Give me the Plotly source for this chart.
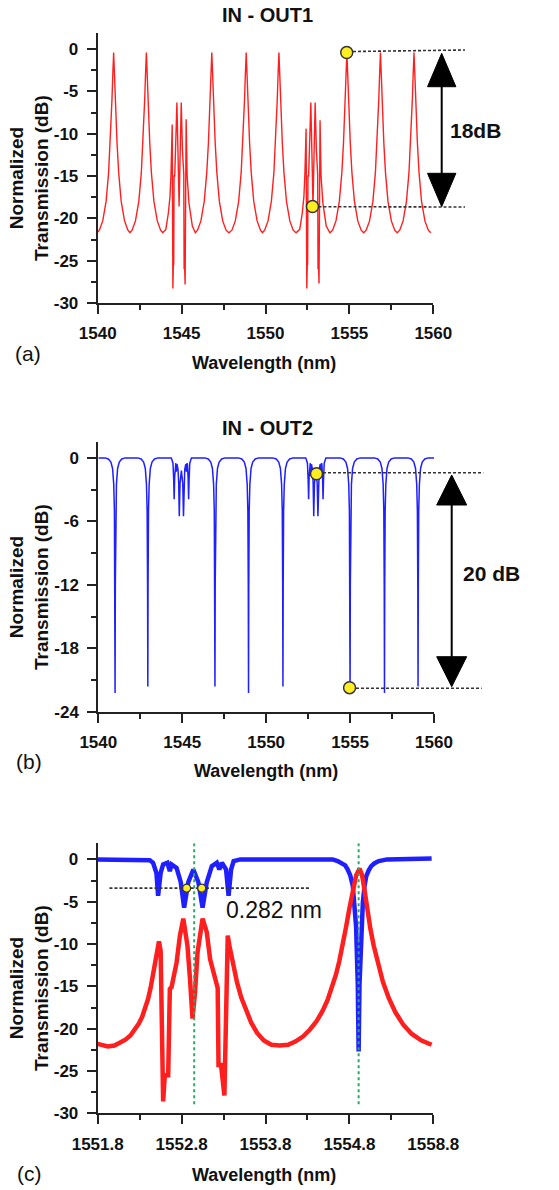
import plotly.graph_objects as go

W, H = 559, 1190
FONT = "Liberation Sans, Arial, sans-serif"

# ---------------- panel (a): IN - OUT1 (red) ----------------
wl_a = [1540.00,
        1540.10, 1540.30, 1540.50, 1540.65, 1540.75, 1540.85, 1540.90, 1540.95, 1541.00, 1541.05, 1541.15, 1541.25, 1541.40, 1541.60, 1541.80, 1541.92,
        1542.05, 1542.25, 1542.45, 1542.60, 1542.70, 1542.80, 1542.85, 1542.90, 1542.95, 1543.00, 1543.10, 1543.20, 1543.35, 1543.55, 1543.75, 1543.88,
        1544.06, 1544.21, 1544.31, 1544.37, 1544.41, 1544.44, 1544.48, 1544.51, 1544.53, 1544.55, 1544.59, 1544.65, 1544.72, 1544.79, 1544.85,
        1544.91, 1544.98, 1545.05, 1545.13, 1545.15, 1545.18, 1545.21, 1545.27, 1545.33, 1545.44, 1545.64, 1545.82,
        1545.95, 1546.15, 1546.35, 1546.50, 1546.60, 1546.70, 1546.75, 1546.80, 1546.85, 1546.90, 1547.00, 1547.10, 1547.25, 1547.45, 1547.65, 1547.82,
        1548.00, 1548.20, 1548.40, 1548.55, 1548.65, 1548.75, 1548.80, 1548.85, 1548.90, 1548.95, 1549.05, 1549.15, 1549.30, 1549.50, 1549.70, 1549.82,
        1549.95, 1550.15, 1550.35, 1550.50, 1550.60, 1550.70, 1550.75, 1550.80, 1550.85, 1550.90, 1551.00, 1551.10, 1551.25, 1551.45, 1551.65, 1551.82,
        1552.04, 1552.19, 1552.29, 1552.35, 1552.39, 1552.42, 1552.46, 1552.49, 1552.51, 1552.53, 1552.57, 1552.63, 1552.70, 1552.77, 1552.83,
        1552.89, 1552.96, 1553.03, 1553.11, 1553.13, 1553.16, 1553.19, 1553.25, 1553.31, 1553.42, 1553.62, 1553.84,
        1554.00, 1554.20, 1554.40, 1554.55, 1554.65, 1554.75, 1554.80, 1554.85, 1554.90, 1554.95, 1555.05, 1555.15, 1555.30, 1555.50, 1555.70, 1555.85,
        1556.00, 1556.20, 1556.40, 1556.55, 1556.65, 1556.75, 1556.80, 1556.85, 1556.90, 1556.95, 1557.05, 1557.15, 1557.30, 1557.50, 1557.70, 1557.85,
        1558.00, 1558.20, 1558.40, 1558.55, 1558.65, 1558.75, 1558.80, 1558.85, 1558.90, 1558.95, 1559.05, 1559.15, 1559.30, 1559.50, 1559.70, 1559.85]
db_a = [-21.6,
        -21.4, -20.3, -18.0, -14.6, -11.0, -6.0, -3.0, -0.4, -3.0, -6.0, -11.0, -14.6, -18.0, -20.3, -21.4, -21.7,
        -21.4, -20.3, -18.0, -14.6, -11.0, -6.0, -3.0, -0.4, -3.0, -6.0, -11.0, -14.6, -18.0, -20.3, -21.4, -21.7,
        -21.3, -19.4, -17.4, -14.6, -11.1, -8.9, -28.3, -25.3, -25.5, -15.0, -15.0, -11.1, -6.3, -12.7, -18.6,
        -12.7, -6.3, -11.9, -14.8, -26.0, -25.7, -27.8, -8.3, -15.0, -18.2, -20.9, -21.7,
        -21.4, -20.3, -18.0, -14.6, -11.0, -6.0, -3.0, -0.4, -3.0, -6.0, -11.0, -14.6, -18.0, -20.3, -21.4, -21.7,
        -21.4, -20.3, -18.0, -14.6, -11.0, -6.0, -3.0, -0.4, -3.0, -6.0, -11.0, -14.6, -18.0, -20.3, -21.4, -21.7,
        -21.4, -20.3, -18.0, -14.6, -11.0, -6.0, -3.0, -0.4, -3.0, -6.0, -11.0, -14.6, -18.0, -20.3, -21.4, -21.7,
        -21.3, -19.4, -17.4, -14.6, -11.1, -9.4, -28.3, -25.3, -25.5, -15.0, -15.0, -11.1, -6.3, -12.7, -18.6,
        -12.7, -6.3, -11.9, -14.8, -26.0, -25.7, -27.7, -8.4, -15.0, -18.2, -20.9, -21.7,
        -21.4, -20.3, -18.0, -14.6, -11.0, -6.0, -3.0, -0.4, -3.0, -6.0, -11.0, -14.6, -18.0, -20.3, -21.4, -21.7,
        -21.4, -20.3, -18.0, -14.6, -11.0, -6.0, -3.0, -0.4, -3.0, -6.0, -11.0, -14.6, -18.0, -20.3, -21.4, -21.7,
        -21.4, -20.3, -18.0, -14.6, -11.0, -6.0, -3.0, -0.4, -3.0, -6.0, -11.0, -14.6, -18.0, -20.3, -21.4, -21.7]
mark_wl_a = [1554.84, 1552.80]
mark_db_a = [-0.4, -18.6]

# ---------------- panel (b): IN - OUT2 (blue) ----------------
wl_b = [1540.00,
        1540.40, 1540.60, 1540.75, 1540.85, 1540.92, 1540.96, 1540.985, 1541.00, 1541.015, 1541.04, 1541.08, 1541.15, 1541.25, 1541.40, 1541.60,
        1542.35, 1542.55, 1542.70, 1542.80, 1542.87, 1542.91, 1542.935, 1542.95, 1542.965, 1542.99, 1543.03, 1543.10, 1543.20, 1543.35, 1543.55,
        1544.35, 1544.45, 1544.49, 1544.52, 1544.55, 1544.59, 1544.62, 1544.65, 1544.69, 1544.75, 1544.79, 1544.825, 1544.87, 1544.95,
        1545.03, 1545.075, 1545.11, 1545.15, 1545.21, 1545.25, 1545.28, 1545.31, 1545.35, 1545.38, 1545.41, 1545.45, 1545.55,
        1546.35, 1546.55, 1546.70, 1546.80, 1546.87, 1546.91, 1546.935, 1546.95, 1546.965, 1546.99, 1547.03, 1547.10, 1547.20, 1547.35, 1547.55,
        1548.35, 1548.55, 1548.70, 1548.80, 1548.87, 1548.91, 1548.935, 1548.95, 1548.965, 1548.99, 1549.03, 1549.10, 1549.20, 1549.35, 1549.55,
        1550.40, 1550.60, 1550.75, 1550.85, 1550.92, 1550.96, 1550.985, 1551.00, 1551.015, 1551.04, 1551.08, 1551.15, 1551.25, 1551.40, 1551.60,
        1552.36, 1552.46, 1552.50, 1552.53, 1552.56, 1552.60, 1552.63, 1552.66, 1552.70, 1552.76, 1552.80, 1552.835, 1552.88, 1552.96,
        1553.04, 1553.085, 1553.12, 1553.16, 1553.22, 1553.26, 1553.29, 1553.32, 1553.36, 1553.39, 1553.42, 1553.46, 1553.56,
        1554.40, 1554.60, 1554.75, 1554.85, 1554.92, 1554.96, 1554.985, 1555.00, 1555.015, 1555.04, 1555.08, 1555.15, 1555.25, 1555.40, 1555.60,
        1556.45, 1556.65, 1556.80, 1556.90, 1556.97, 1557.01, 1557.035, 1557.05, 1557.065, 1557.09, 1557.13, 1557.20, 1557.30, 1557.45, 1557.65,
        1558.45, 1558.65, 1558.80, 1558.90, 1558.97, 1559.01, 1559.035, 1559.05, 1559.065, 1559.09, 1559.13, 1559.20, 1559.30, 1559.45, 1559.65,
        1560.00]
db_b = [0.0,
        0.0, -0.1, -0.4, -1.0, -2.5, -5.0, -12.0, -22.2, -12.0, -5.0, -2.5, -1.0, -0.4, -0.1, 0.0,
        0.0, -0.1, -0.4, -1.0, -2.5, -5.0, -12.0, -21.6, -12.0, -5.0, -2.5, -1.0, -0.4, -0.1, 0.0,
        0.0, -0.5, -2.0, -3.9, -1.8, -0.6, -0.5, -1.3, -0.6, -1.1, -2.4, -5.5, -2.4, -1.2,
        -2.4, -5.5, -2.4, -1.1, -0.6, -1.3, -0.5, -0.6, -1.8, -3.9, -2.0, -0.5, 0.0,
        0.0, -0.1, -0.4, -1.0, -2.5, -5.0, -12.0, -21.6, -12.0, -5.0, -2.5, -1.0, -0.4, -0.1, 0.0,
        0.0, -0.1, -0.4, -1.0, -2.5, -5.0, -12.0, -22.2, -12.0, -5.0, -2.5, -1.0, -0.4, -0.1, 0.0,
        0.0, -0.1, -0.4, -1.0, -2.5, -5.0, -12.0, -21.6, -12.0, -5.0, -2.5, -1.0, -0.4, -0.1, 0.0,
        0.0, -0.5, -2.0, -3.9, -1.8, -0.6, -0.5, -1.3, -0.6, -1.1, -2.4, -5.5, -2.4, -1.2,
        -2.4, -5.5, -2.4, -1.1, -0.6, -1.3, -0.5, -0.6, -1.8, -3.9, -2.0, -0.5, 0.0,
        0.0, -0.1, -0.4, -1.0, -2.5, -5.0, -12.0, -21.8, -12.0, -5.0, -2.5, -1.0, -0.4, -0.1, 0.0,
        0.0, -0.1, -0.4, -1.0, -2.5, -5.0, -12.0, -22.2, -12.0, -5.0, -2.5, -1.0, -0.4, -0.1, 0.0,
        0.0, -0.1, -0.4, -1.0, -2.5, -5.0, -12.0, -21.6, -12.0, -5.0, -2.5, -1.0, -0.4, -0.1, 0.0,
        0.0]
mark_wl_b = [1553.00, 1554.97]
mark_db_b = [-1.5, -21.7]

# ---------------- panel (c): zoom of both outputs ----------------
wl_c_out1 = [1551.80, 1551.86, 1551.92, 1552.00, 1552.07, 1552.13, 1552.19, 1552.24, 1552.29, 1552.33, 1552.37, 1552.40,
             1552.43, 1552.46, 1552.48, 1552.50, 1552.52, 1552.53,
             1552.55, 1552.58, 1552.60, 1552.64, 1552.66, 1552.68, 1552.74, 1552.78, 1552.82, 1552.87, 1552.90, 1552.93,
             1552.96, 1552.99, 1553.05, 1553.10, 1553.14, 1553.18, 1553.23, 1553.24, 1553.27, 1553.31, 1553.35,
             1553.37, 1553.39, 1553.42, 1553.46, 1553.51, 1553.57, 1553.63, 1553.70, 1553.78, 1553.87, 1553.97,
             1554.07, 1554.16, 1554.25, 1554.33, 1554.41, 1554.48, 1554.54, 1554.59, 1554.64, 1554.68, 1554.72,
             1554.76, 1554.80, 1554.84, 1554.88, 1554.92, 1554.95, 1554.98, 1555.01, 1555.05, 1555.09, 1555.14,
             1555.20, 1555.27, 1555.35, 1555.44, 1555.54, 1555.66, 1555.78]
db_c_out1 = [-21.8, -22.0, -22.1, -22.0, -21.7, -21.3, -20.8, -20.2, -19.4, -18.6, -17.6, -16.5,
             -15.2, -13.6, -12.2, -10.8, -9.9, -9.7,
             -10.8, -28.6, -25.5, -25.5, -15.3, -15.1, -12.2, -9.0, -7.0, -10.2, -14.1, -18.8,
             -15.7, -11.0, -7.0, -8.6, -11.8, -13.3, -15.2, -24.3, -24.3, -27.9, -9.0,
             -10.2, -11.2, -12.7, -14.5, -16.3, -17.9, -19.3, -20.5, -21.4, -21.9, -22.0,
             -21.9, -21.5, -20.9, -20.1, -19.1, -17.9, -16.6, -15.2, -13.6, -12.0, -10.2,
             -8.0, -5.8, -3.6, -1.9, -1.1, -1.8, -3.6, -5.8, -8.2, -10.2, -12.4,
             -14.5, -16.4, -18.1, -19.5, -20.6, -21.4, -21.9]
wl_c_out2 = [1551.80, 1552.30, 1552.42, 1552.46, 1552.50, 1552.52, 1552.55, 1552.58, 1552.63, 1552.66, 1552.68, 1552.74,
             1552.79, 1552.83, 1552.88, 1552.94, 1553.00, 1553.05, 1553.10, 1553.16, 1553.22, 1553.25, 1553.28, 1553.33,
             1553.36, 1553.39, 1553.42, 1553.50, 1554.60, 1554.66, 1554.71, 1554.75, 1554.78, 1554.81, 1554.84, 1554.86,
             1554.88, 1554.90, 1554.91, 1554.92, 1554.94, 1554.96, 1554.98, 1555.00, 1555.03, 1555.06, 1555.10, 1555.15,
             1555.25, 1555.78]
db_c_out2 = [0.0, 0.0, -0.1, -0.4, -1.6, -4.3, -1.6, -0.6, -0.4, -1.4, -0.6, -1.0,
             -2.7, -5.7, -2.7, -1.2, -2.7, -5.7, -2.7, -0.8, -0.4, -1.2, -0.4, -1.2,
             -4.3, -1.2, -0.2, 0.0, 0.0, -0.2, -0.4, -0.7, -1.2, -1.9, -3.1, -5.0,
             -8.0, -14.9, -22.7, -14.9, -8.0, -5.1, -3.2, -2.0, -1.3, -0.8, -0.45, -0.2,
             0.0, 0.1]
mark_wl_c = [1552.86, 1553.04]
mark_db_c = [-3.4, -3.4]
center_wl_c = [1552.95, 1554.91]
half_level_c = -3.4
half_span_c = [1551.94, 1554.33]

# tick labels
xtick_ab = [1540, 1545, 1550, 1555, 1560]
ytick_a = [0, -5, -10, -15, -20, -25, -30]
ytick_b = [0, -6, -12, -18, -24]
xtick_c = [1551.8, 1552.8, 1553.8, 1554.8, 1555.8]
xticktext_c = ["1551.8", "1552.8", "1553.8", "1554.8", "1558.8"]
ytick_c = [0, -5, -10, -15, -20, -25, -30]

RED = "#ff1f1f"
BLUE = "#1f1fff"
GREEN = "#2aa868"
DOT = "#ffee22"


def px(x):
    """page pixel x -> paper fraction"""
    return x / W


def py(y):
    """page pixel y -> paper fraction"""
    return 1 - y / H


def bold(vals):
    return ["<b>%s</b>" % v for v in vals]


fig = go.Figure()
fig.add_trace(go.Scatter(x=wl_a, y=db_a, mode="lines", line=dict(color=RED, width=1.4), xaxis="x", yaxis="y"))
fig.add_trace(go.Scatter(x=wl_b, y=db_b, mode="lines", line=dict(color=BLUE, width=1.5), xaxis="x2", yaxis="y2"))
fig.add_trace(go.Scatter(x=wl_c_out2, y=db_c_out2, mode="lines", line=dict(color=BLUE, width=4.5), xaxis="x3", yaxis="y3"))
fig.add_trace(go.Scatter(x=wl_c_out1, y=db_c_out1, mode="lines", line=dict(color=RED, width=4.5), xaxis="x3", yaxis="y3"))

mk = dict(color=DOT, line=dict(color="#333", width=1.5))
fig.add_trace(go.Scatter(x=mark_wl_a, y=mark_db_a, mode="markers", marker=dict(size=12, **mk), cliponaxis=False, xaxis="x", yaxis="y"))
fig.add_trace(go.Scatter(x=mark_wl_b, y=mark_db_b, mode="markers", marker=dict(size=12, **mk), cliponaxis=False, xaxis="x2", yaxis="y2"))

tickfont = dict(family=FONT, size=17, color="#111")


def axis(domain, rng, **kw):
    d = dict(domain=domain, range=rng, showline=True, linecolor="#222", linewidth=2,
             ticks="outside", ticklen=9, tickwidth=2, tickcolor="#222", automargin=False,
             showgrid=False, zeroline=False, tickfont=tickfont, fixedrange=True)
    d.update(kw)
    return d


def minor(t0, dt):
    return dict(ticks="outside", ticklen=5, tickwidth=2, tickcolor="#222", tick0=t0, dtick=dt, showgrid=False)


xdom = [px(97.7), px(433.3)]
fig.update_layout(
    template="none",
    width=W, height=H, margin=dict(l=0, r=0, t=0, b=0, pad=0, autoexpand=False),
    paper_bgcolor="white", plot_bgcolor="white", showlegend=False,
    xaxis=axis(xdom, [1540, 1560], anchor="y", tickmode="array", tickvals=xtick_ab,
               ticktext=bold(xtick_ab), minor=minor(1540, 2.5), ticklabelstandoff=5),
    yaxis=axis([py(303), py(33)], [-30, 1.9], anchor="x", tickmode="array", tickvals=ytick_a,
               ticktext=bold(ytick_a), minor=minor(0, 2.5), ticklabelstandoff=5),
    xaxis2=axis([px(98.3), px(434)], [1540, 1560], anchor="y2", tickmode="array", tickvals=xtick_ab,
                ticktext=bold(xtick_ab), minor=minor(1540, 2.5), ticklabelstandoff=5),
    yaxis2=axis([py(712), py(442)], [-24, 1.5], anchor="x2", tickmode="array", tickvals=ytick_b,
                ticktext=bold(ytick_b), minor=minor(0, 3), ticklabelstandoff=5),
    xaxis3=axis(xdom, [1551.8, 1555.8], anchor="y3", tickmode="array", tickvals=xtick_c,
                ticktext=bold(xticktext_c), minor=minor(1551.8, 0.5), ticklabelstandoff=5),
    yaxis3=axis([py(1113.3), py(843.3)], [-30, 1.9], anchor="x3", tickmode="array", tickvals=ytick_c,
                ticktext=bold(ytick_c), minor=minor(0, 2.5), ticklabelstandoff=5),
)

shapes = []
dash = dict(color="#333", width=1.6, dash="3px,2px")


def pline(x0, y0, x1, y1, line):
    return dict(type="line", xref="paper", yref="paper", x0=px(x0), y0=py(y0), x1=px(x1), y1=py(y1), line=line, layer="above")


def tri(xc, tip, base, half):
    path = "M {:.5f},{:.5f} L {:.5f},{:.5f} L {:.5f},{:.5f} Z".format(
        px(xc), py(tip), px(xc - half), py(base), px(xc + half), py(base))
    return dict(type="path", xref="paper", yref="paper", path=path, fillcolor="black",
                line=dict(color="black", width=1), layer="above")


# (a) annotation guides (dashed leaders start at the right edge of each dot)
shapes += [pline(353, 51.5, 465, 50, dash), pline(318.5, 206.7, 465, 207, dash)]
shapes += [pline(441.7, 75, 441.7, 185, dict(color="black", width=2)),
           tri(441.7, 53.3, 86.7, 14.2), tri(441.7, 206.7, 173.3, 14.2)]
# (b) annotation guides
shapes += [pline(323, 472.7, 483.3, 472.7, dash), pline(356, 688.3, 481.7, 688.3, dash)]
shapes += [pline(451.7, 495, 451.7, 667, dict(color="black", width=2)),
           tri(451.7, 475, 505, 15), tri(451.7, 686.7, 656.7, 15)]
# (c) guides in data coordinates: dashed level split around the two dots
gap = 0.05
seg_edges = [half_span_c[0], mark_wl_c[0] - gap, mark_wl_c[0] + gap, mark_wl_c[1] - gap, mark_wl_c[1] + gap, half_span_c[1]]
for i in range(0, len(seg_edges), 2):
    shapes.append(dict(type="line", xref="x3", yref="y3", x0=seg_edges[i], x1=seg_edges[i + 1],
                       y0=half_level_c, y1=half_level_c, line=dict(color="#333", width=1.6, dash="3px,2px"), layer="above"))
for c in center_wl_c:
    shapes.append(dict(type="line", xref="x3", yref="y3", x0=c, x1=c, y0=1.9, y1=-29.2,
                       line=dict(color=GREEN, width=2, dash="dot"), layer="above"))
fig.update_layout(shapes=shapes)

fig.add_trace(go.Scatter(x=mark_wl_c, y=mark_db_c, mode="markers",
                         marker=dict(size=8, color=DOT, line=dict(color="#333", width=1.2)),
                         cliponaxis=False, xaxis="x3", yaxis="y3"))


def ann(text, x, y, size, is_bold=True, angle=0):
    return dict(text=("<b>%s</b>" % text) if is_bold else text, x=px(x), y=py(y), xref="paper", yref="paper",
                showarrow=False, xanchor="center", yanchor="middle", textangle=angle,
                font=dict(family=FONT, size=size, color="#111"))


anns = [
    ann("IN - OUT1", 267, 15, 20),
    ann("IN - OUT2", 267, 428, 20),
    ann("Wavelength (nm)", 264, 363, 18),
    ann("Wavelength (nm)", 266, 771, 18),
    ann("Wavelength (nm)", 264, 1175, 18),
    ann("Normalized<br>Transmission (dB)", 29, 178, 19, angle=-90),
    ann("Normalized<br>Transmission (dB)", 29, 587, 19, angle=-90),
    ann("Normalized<br>Transmission (dB)", 29, 988, 19, angle=-90),
    ann("(a)", 28, 353, 21, is_bold=False),
    ann("(b)", 29, 762, 21, is_bold=False),
    ann("(c)", 29, 1173, 21, is_bold=False),
    ann("18dB", 475, 130, 21),
    ann("20 dB", 491, 573, 21),
    ann("0.282 nm", 274, 910, 23, is_bold=False),
]
fig.update_layout(annotations=anns)

# remove the browser's default 8px body margin so the 559x1190 figure fills the window exactly
fig.write_html("out.html", config={"displayModeBar": False, "staticPlot": True},
               post_script="document.body.style.margin='0px';document.documentElement.style.overflow='hidden';")
